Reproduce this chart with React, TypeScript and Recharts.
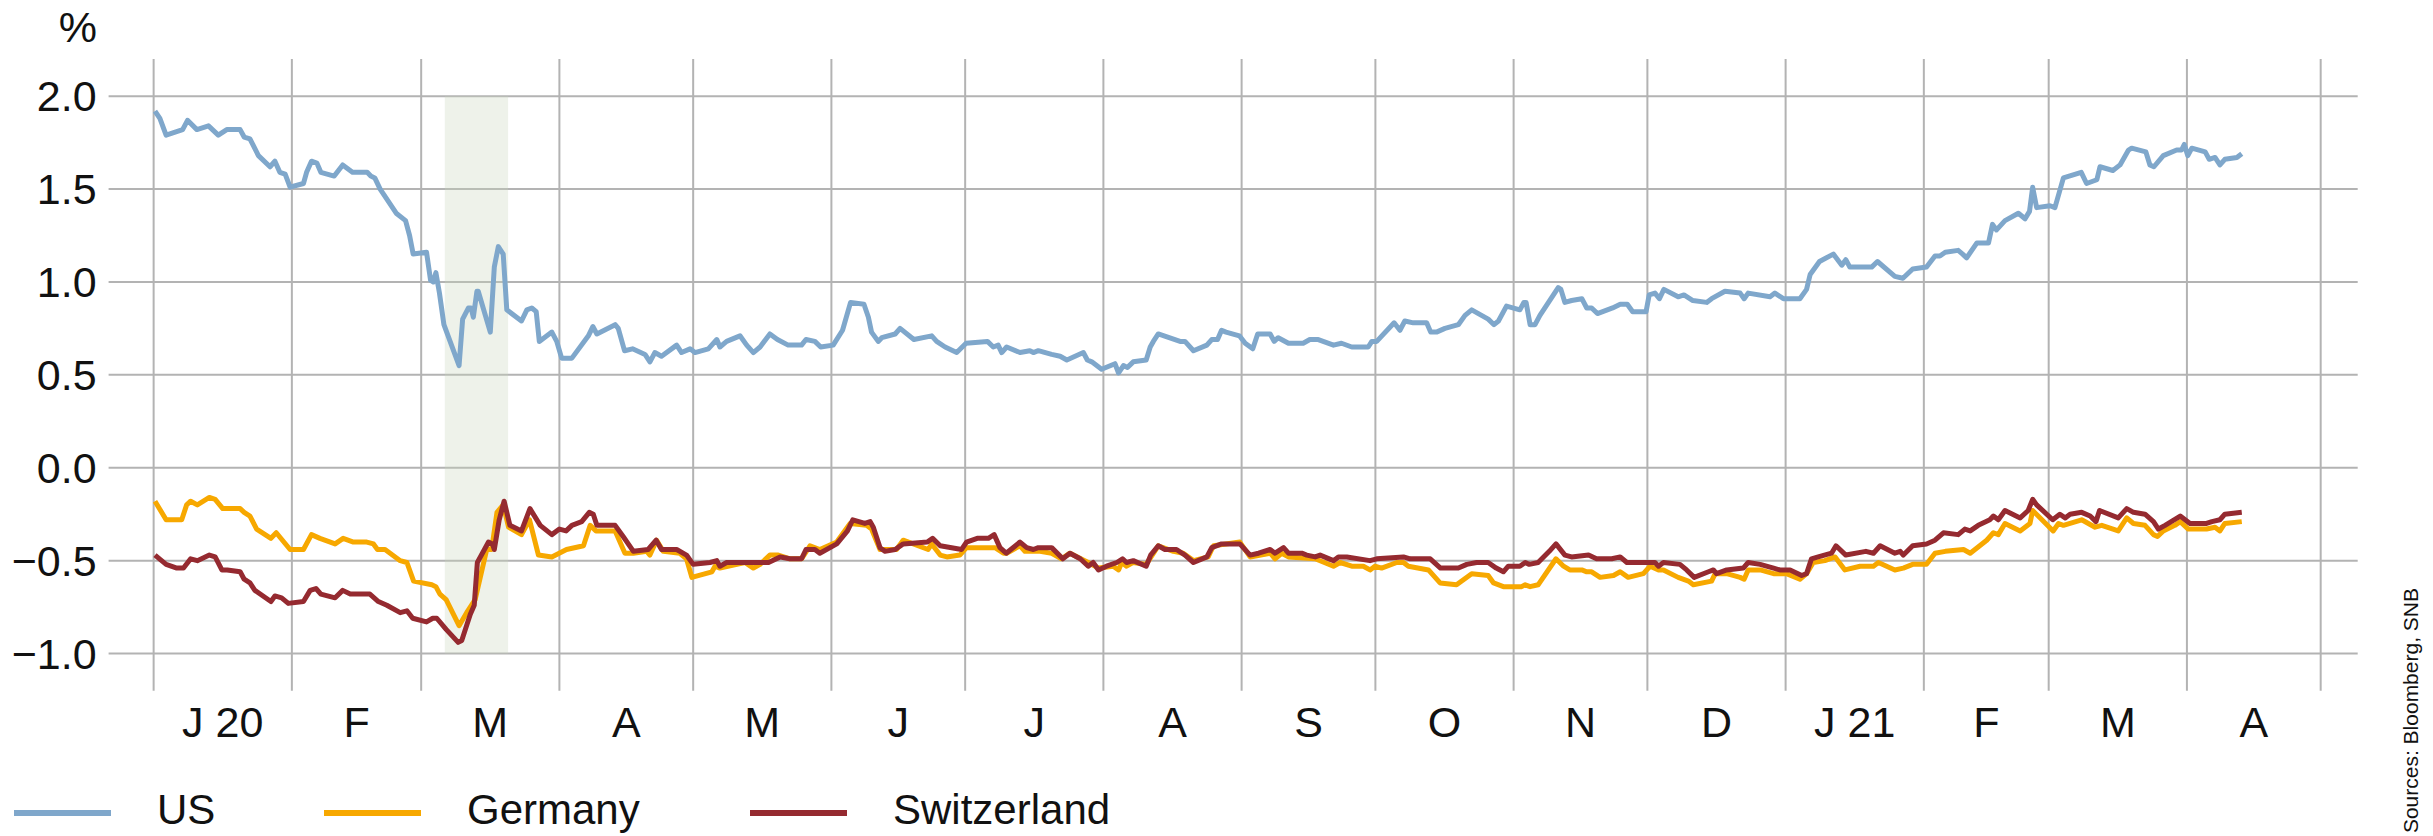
import React from 'react';
import { LineChart, Line, XAxis, YAxis, CartesianGrid, ReferenceArea } from 'recharts';

// x values: days since 1 Jan 2020
const monthStarts = [0, 31, 60, 91, 121, 152, 182, 213, 244, 274, 305, 335, 366, 397, 425, 456, 486];
const monthLabels = ['J 20', 'F', 'M', 'A', 'M', 'J', 'J', 'A', 'S', 'O', 'N', 'D', 'J 21', 'F', 'M', 'A'];
const yTicks = [-1, -0.5, 0, 0.5, 1, 1.5, 2];
const shadeDays = [65.3, 79.5];

const seriesNames = ['US', 'Germany', 'Switzerland'];
const seriesColors = ['#7fa7cb', '#f7a800', '#952a30'];

const usSeries: [number, number][] = [
  [0.3,1.92],[1.4,1.88],[2.8,1.79],[6.5,1.82],[7.6,1.87],[9.7,1.82],[12.3,1.84],[14.5,1.79],[16.4,1.82],[19.4,1.82],
  [20.3,1.78],[21.6,1.77],[23.5,1.68],[26.1,1.62],[27.2,1.65],[28.3,1.59],[29.5,1.58],[30.6,1.51],[33.6,1.53],[34.3,1.59],
  [35.4,1.65],[36.6,1.64],[37.5,1.59],[40.5,1.57],[42.4,1.63],[44.6,1.59],[47.9,1.59],[48.7,1.57],[49.6,1.56],[50.8,1.50],
  [54.4,1.37],[56.5,1.33],[57.4,1.25],[58.2,1.15],[61.2,1.16],[62.1,1.01],[62.7,1.00],[63.3,1.05],[64.1,0.94],[65.1,0.77],
  [68.5,0.55],[69.3,0.80],[70.6,0.86],[71.2,0.86],[71.7,0.81],[72.5,0.95],[72.8,0.95],[75.5,0.73],[76.4,1.08],[77.3,1.19],
  [78.4,1.15],[79.2,0.85],[82.5,0.79],[83.7,0.85],[84.8,0.86],[85.8,0.84],[86.5,0.68],[89.3,0.73],[90.4,0.68],[91.5,0.59],
  [93.8,0.59],[97.5,0.71],[98.5,0.76],[99.4,0.72],[103.5,0.77],[104.2,0.75],[105.6,0.63],[107.4,0.64],[110.2,0.61],[111.3,0.57],
  [112.4,0.62],[113.9,0.60],[117.3,0.66],[118.4,0.62],[120.3,0.64],[121.4,0.62],[124.4,0.64],[126.3,0.69],[127.0,0.65],[128.5,0.68],
  [131.5,0.71],[133.0,0.66],[134.5,0.62],[136.0,0.65],[138.2,0.72],[139.9,0.69],[142.3,0.66],[145.3,0.66],[146.3,0.69],[148.3,0.68],
  [149.6,0.65],[152.4,0.66],[154.5,0.74],[156.3,0.89],[159.3,0.88],[160.3,0.81],[161.0,0.73],[162.5,0.68],[163.3,0.70],[166.3,0.72],
  [167.4,0.75],[170.5,0.69],[174.5,0.71],[175.6,0.68],[177.5,0.65],[180.1,0.62],[182.2,0.67],[187.0,0.68],[188.3,0.65],[189.4,0.66],
  [190.2,0.62],[191.3,0.65],[194.3,0.62],[196.5,0.63],[197.3,0.62],[198.4,0.63],[201.4,0.61],[203.3,0.60],[204.8,0.58],[208.5,0.62],
  [209.4,0.58],[210.4,0.57],[212.6,0.53],[215.6,0.56],[216.4,0.51],[217.5,0.55],[218.4,0.54],[219.7,0.57],[222.6,0.58],[223.5,0.65],
  [224.2,0.68],[225.3,0.72],[230.2,0.68],[231.3,0.68],[233.2,0.63],[236.2,0.66],[237.3,0.69],[238.6,0.69],[239.5,0.74],[240.5,0.73],
  [243.5,0.71],[244.8,0.67],[246.5,0.64],[247.6,0.72],[250.4,0.72],[251.3,0.68],[252.2,0.70],[254.5,0.67],[257.8,0.67],[259.3,0.69],
  [261.2,0.69],[264.6,0.66],[266.4,0.67],[268.7,0.65],[272.4,0.65],[273.2,0.68],[274.3,0.68],[278.2,0.78],[279.5,0.74],[280.6,0.79],
  [282.5,0.78],[285.5,0.78],[286.4,0.73],[287.7,0.73],[289.6,0.75],[292.6,0.77],[294.1,0.82],[295.6,0.85],[299.3,0.80],[300.6,0.77],
  [301.6,0.79],[303.4,0.87],[306.4,0.85],[307.3,0.89],[307.8,0.89],[308.7,0.77],[309.8,0.77],[310.9,0.82],[315.0,0.97],[315.6,0.96],
  [316.5,0.89],[318.0,0.90],[320.3,0.91],[321.4,0.86],[322.5,0.86],[323.8,0.83],[327.2,0.86],[328.9,0.88],[330.5,0.88],[331.7,0.84],
  [334.7,0.84],[335.4,0.93],[336.7,0.94],[337.7,0.91],[338.7,0.96],[341.9,0.92],[343.2,0.93],[345.2,0.90],[348.3,0.89],[349.4,0.91],
  [352.4,0.95],[355.8,0.94],[356.7,0.91],[357.6,0.94],[362.5,0.92],[363.6,0.94],[365.5,0.91],[369.2,0.91],[370.7,0.96],[371.5,1.04],
  [373.6,1.11],[376.7,1.15],[378.6,1.09],[379.5,1.12],[380.4,1.08],[385.3,1.08],[386.6,1.11],[390.5,1.03],[392.3,1.02],[394.5,1.07],
  [397.6,1.08],[399.5,1.14],[400.6,1.14],[401.8,1.16],[404.7,1.17],[405.7,1.15],[406.6,1.13],[408.9,1.21],[411.5,1.21],[412.4,1.31],
  [413.3,1.28],[415.2,1.33],[418.2,1.37],[419.7,1.34],[420.7,1.38],[421.4,1.51],[422.3,1.40],[425.3,1.41],[426.4,1.40],[428.3,1.56],
  [432.3,1.59],[433.5,1.53],[435.8,1.55],[436.5,1.62],[439.4,1.60],[441.0,1.63],[442.9,1.71],[443.6,1.72],[446.8,1.70],[447.7,1.63],
  [448.6,1.62],[450.7,1.68],[453.7,1.71],[454.8,1.71],[455.4,1.74],[456.2,1.68],[457.1,1.72],[460.1,1.70],[461.0,1.66],[462.3,1.67],
  [463.4,1.63],[464.5,1.66],[467.2,1.67],[468.3,1.69],
];

const germanySeries: [number, number][] = [
  [0.3,-0.18],[2.8,-0.28],[6.3,-0.28],[7.4,-0.20],[8.3,-0.18],[9.8,-0.20],[12.5,-0.16],[13.8,-0.17],[15.5,-0.22],[19.4,-0.22],
  [20.3,-0.24],[21.6,-0.26],[23.1,-0.33],[26.3,-0.38],[27.5,-0.35],[30.6,-0.44],[33.6,-0.44],[35.4,-0.36],[37.3,-0.38],[40.7,-0.41],
  [42.5,-0.38],[44.8,-0.40],[47.8,-0.40],[49.3,-0.41],[50.2,-0.44],[51.9,-0.44],[55.3,-0.50],[56.8,-0.51],[58.3,-0.61],[62.4,-0.63],
  [63.3,-0.64],[64.2,-0.68],[65.6,-0.71],[68.5,-0.85],[70.2,-0.78],[72.1,-0.71],[74.7,-0.44],[75.8,-0.44],[77.0,-0.24],[78.4,-0.20],
  [79.6,-0.32],[82.5,-0.36],[84.3,-0.28],[86.3,-0.47],[89.3,-0.48],[92.6,-0.44],[96.4,-0.42],[97.9,-0.31],[99.2,-0.34],[103.5,-0.34],
  [105.7,-0.46],[107.6,-0.46],[110.6,-0.45],[111.3,-0.47],[112.8,-0.39],[114.3,-0.45],[118.0,-0.46],[119.5,-0.49],[120.7,-0.59],[125.2,-0.56],
  [125.9,-0.53],[127.0,-0.54],[132.6,-0.51],[134.5,-0.54],[136.0,-0.52],[138.2,-0.47],[140.1,-0.47],[142.7,-0.49],[145.3,-0.49],[147.2,-0.42],
  [149.4,-0.44],[153.2,-0.40],[156.2,-0.30],[159.9,-0.31],[161.0,-0.33],[162.9,-0.44],[166.6,-0.44],[168.1,-0.39],[173.7,-0.44],[174.5,-0.41],
  [176.4,-0.47],[177.9,-0.48],[180.8,-0.47],[182.3,-0.43],[188.7,-0.43],[190.6,-0.46],[191.3,-0.46],[194.3,-0.42],[195.4,-0.45],[198.8,-0.45],
  [201.4,-0.46],[203.6,-0.49],[205.5,-0.46],[209.6,-0.51],[211.9,-0.54],[215.2,-0.53],[216.4,-0.55],[217.1,-0.51],[218.2,-0.53],[219.6,-0.51],
  [222.6,-0.52],[225.3,-0.42],[228.7,-0.45],[230.9,-0.46],[233.2,-0.50],[236.5,-0.48],[237.7,-0.42],[243.6,-0.40],[245.9,-0.48],[250.4,-0.46],
  [251.5,-0.49],[253.0,-0.46],[254.5,-0.48],[260.5,-0.49],[264.6,-0.53],[266.1,-0.51],[268.7,-0.53],[271.3,-0.53],[272.8,-0.55],[273.9,-0.53],
  [275.4,-0.54],[278.8,-0.51],[280.3,-0.51],[281.4,-0.53],[285.9,-0.55],[288.5,-0.62],[292.2,-0.63],[295.6,-0.57],[299.3,-0.58],[300.5,-0.62],
  [302.7,-0.64],[306.8,-0.64],[307.6,-0.63],[308.7,-0.64],[310.5,-0.63],[314.5,-0.49],[316.2,-0.53],[317.6,-0.55],[320.3,-0.55],[321.4,-0.56],
  [322.5,-0.56],[324.4,-0.59],[327.4,-0.58],[328.9,-0.56],[330.7,-0.59],[334.1,-0.57],[335.6,-0.53],[337.5,-0.55],[338.6,-0.55],[341.9,-0.59],
  [344.2,-0.61],[345.3,-0.63],[349.4,-0.61],[350.2,-0.57],[352.8,-0.57],[355.8,-0.59],[356.7,-0.60],[357.6,-0.55],[360.3,-0.55],[363.3,-0.57],
  [366.2,-0.57],[369.2,-0.60],[370.7,-0.57],[372.2,-0.51],[374.8,-0.50],[377.1,-0.48],[379.3,-0.55],[382.7,-0.53],[385.7,-0.53],[386.8,-0.51],
  [390.5,-0.55],[392.4,-0.54],[394.5,-0.52],[397.6,-0.52],[399.5,-0.46],[401.8,-0.45],[405.9,-0.44],[407.4,-0.46],[411.1,-0.39],[412.6,-0.35],
  [413.7,-0.36],[415.2,-0.30],[418.6,-0.34],[420.8,-0.30],[421.4,-0.23],[426.0,-0.34],[427.2,-0.30],[428.3,-0.31],[432.4,-0.28],[435.4,-0.32],
  [436.9,-0.31],[440.6,-0.34],[442.5,-0.27],[444.0,-0.30],[446.6,-0.31],[448.5,-0.36],[449.4,-0.37],[450.7,-0.34],[453.3,-0.31],[454.5,-0.29],
  [456.3,-0.33],[460.4,-0.33],[462.3,-0.32],[463.4,-0.34],[464.5,-0.30],[468.3,-0.29],
];

const switzerlandSeries: [number, number][] = [
  [0.3,-0.47],[2.8,-0.52],[5.2,-0.54],[6.7,-0.54],[8.3,-0.49],[9.8,-0.50],[12.5,-0.47],[13.8,-0.48],[15.3,-0.55],[16.5,-0.55],
  [19.4,-0.56],[20.3,-0.60],[21.6,-0.62],[22.7,-0.66],[26.3,-0.72],[27.2,-0.69],[28.7,-0.70],[30.2,-0.73],[33.6,-0.72],[35.1,-0.66],
  [36.4,-0.65],[37.5,-0.68],[40.7,-0.70],[42.4,-0.66],[44.1,-0.68],[48.5,-0.68],[50.4,-0.72],[52.3,-0.74],[55.3,-0.78],[56.8,-0.77],
  [58.1,-0.81],[61.2,-0.83],[62.6,-0.81],[63.5,-0.81],[65.6,-0.87],[68.3,-0.94],[69.1,-0.93],[71.0,-0.79],[71.9,-0.74],[72.6,-0.51],
  [75.1,-0.40],[76.0,-0.41],[76.4,-0.44],[77.5,-0.28],[78.6,-0.18],[79.9,-0.31],[82.5,-0.34],[84.4,-0.22],[86.7,-0.31],[89.3,-0.36],
  [91.0,-0.33],[92.5,-0.34],[93.8,-0.31],[96.0,-0.29],[97.7,-0.24],[98.6,-0.25],[99.4,-0.31],[103.5,-0.31],[105.3,-0.37],[107.6,-0.45],
  [110.9,-0.44],[112.7,-0.39],[113.9,-0.44],[117.3,-0.44],[119.5,-0.47],[121.0,-0.52],[124.8,-0.51],[126.3,-0.50],[127.0,-0.53],[128.5,-0.51],
  [133.0,-0.51],[137.9,-0.51],[140.5,-0.48],[142.7,-0.49],[145.3,-0.49],[146.3,-0.44],[148.3,-0.44],[149.4,-0.46],[153.2,-0.41],[155.6,-0.34],
  [156.8,-0.28],[159.5,-0.30],[160.7,-0.29],[161.4,-0.32],[162.9,-0.43],[164.0,-0.45],[166.3,-0.44],[168.1,-0.41],[173.5,-0.40],[174.7,-0.38],
  [176.4,-0.42],[181.2,-0.44],[182.3,-0.40],[184.7,-0.38],[187.2,-0.38],[188.5,-0.36],[189.8,-0.43],[191.2,-0.46],[194.3,-0.40],[195.8,-0.43],
  [197.3,-0.44],[198.4,-0.43],[201.4,-0.43],[203.9,-0.49],[205.5,-0.46],[207.8,-0.49],[209.6,-0.53],[210.7,-0.51],[211.9,-0.55],[213.7,-0.53],
  [216.0,-0.51],[217.3,-0.49],[218.2,-0.51],[219.7,-0.50],[222.6,-0.53],[223.6,-0.47],[225.3,-0.42],[226.8,-0.44],[229.4,-0.44],[231.3,-0.47],
  [233.2,-0.51],[236.2,-0.48],[237.3,-0.43],[239.5,-0.41],[243.6,-0.41],[245.9,-0.47],[247.8,-0.46],[250.4,-0.44],[251.5,-0.46],[253.4,-0.43],
  [254.5,-0.46],[257.5,-0.46],[258.6,-0.47],[260.5,-0.48],[261.6,-0.47],[264.6,-0.50],[265.7,-0.48],[267.6,-0.48],[272.8,-0.50],[274.3,-0.49],
  [280.3,-0.48],[281.8,-0.49],[286.3,-0.49],[288.6,-0.54],[290.0,-0.54],[292.6,-0.54],[294.5,-0.52],[296.7,-0.51],[299.3,-0.51],[301.1,-0.54],
  [302.7,-0.56],[303.8,-0.53],[306.4,-0.53],[307.6,-0.51],[308.5,-0.52],[310.5,-0.51],[313.0,-0.45],[314.5,-0.41],[316.5,-0.47],[318.0,-0.48],
  [321.8,-0.47],[323.6,-0.49],[327.0,-0.49],[328.9,-0.48],[330.4,-0.51],[336.7,-0.51],[337.5,-0.53],[338.6,-0.51],[342.3,-0.52],[343.8,-0.55],
  [345.5,-0.59],[348.7,-0.56],[349.8,-0.55],[350.5,-0.57],[352.8,-0.55],[356.5,-0.54],[357.6,-0.51],[360.3,-0.52],[363.3,-0.54],[364.7,-0.55],
  [367.0,-0.55],[369.6,-0.58],[370.7,-0.57],[371.8,-0.49],[373.3,-0.48],[376.3,-0.46],[377.3,-0.42],[379.5,-0.47],[384.0,-0.45],[385.7,-0.46],
  [387.2,-0.42],[390.5,-0.46],[391.7,-0.45],[392.4,-0.47],[394.5,-0.42],[397.6,-0.41],[399.5,-0.39],[401.4,-0.35],[404.7,-0.36],[406.2,-0.33],
  [407.4,-0.34],[409.2,-0.31],[411.8,-0.28],[412.6,-0.26],[413.7,-0.28],[415.2,-0.23],[418.6,-0.27],[420.4,-0.23],[421.4,-0.17],[422.3,-0.20],
  [425.9,-0.28],[427.5,-0.25],[428.7,-0.27],[429.8,-0.25],[432.4,-0.24],[434.3,-0.26],[435.6,-0.29],[436.4,-0.23],[440.6,-0.27],[442.5,-0.22],
  [444.0,-0.24],[446.6,-0.25],[448.5,-0.29],[449.6,-0.33],[451.1,-0.31],[454.5,-0.26],[456.7,-0.30],[460.4,-0.30],[461.6,-0.29],[463.4,-0.28],
  [464.5,-0.25],[468.3,-0.24],
];

const FONT = "'Liberation Sans', Arial, Helvetica, sans-serif";
const TEXT = '#111111';
const GRID = '#b3b3b3';

const toRows = (s: [number, number][]) => s.map(([day, value]) => ({ day, value }));
const seriesData = [toRows(usSeries), toRows(germanySeries), toRows(switzerlandSeries)];

const labelTicks = monthLabels.map((_, i) => (monthStarts[i] + monthStarts[i + 1]) / 2);
const xDomain: [number, number] = [-10.1, 494.3];

const fmtY = (v: number) => (v < 0 ? '\u2212' + Math.abs(v).toFixed(1) : v.toFixed(1));

const legendLineX = [14, 324, 750];
const legendTextX = [157, 467, 893];

const EmptyTick = () => <g />;

export default function App() {
  return (
    <div style={{ position: 'absolute', left: 0, top: 0, width: 2433, height: 836, background: '#fff', fontFamily: FONT }}>
      <LineChart width={2433} height={836} margin={{ top: 59, right: 75.3, bottom: 85.3, left: 8.6 }}>
        <ReferenceArea
          xAxisId="grid"
          x1={shadeDays[0]}
          x2={shadeDays[1]}
          y1={-1}
          y2={2}
          fill="#c8d3b9"
          fillOpacity={0.3}
          stroke="none"
        />
        <CartesianGrid xAxisId="grid" stroke={GRID} strokeWidth={2} syncWithTicks />
        <XAxis
          xAxisId="grid"
          type="number"
          dataKey="day"
          domain={xDomain}
          allowDataOverflow
          ticks={monthStarts}
          interval={0}
          tick={EmptyTick}
          tickLine={false}
          axisLine={false}
          tickSize={0}
          tickMargin={0}
          height={0}
        />
        <XAxis
          xAxisId="labels"
          type="number"
          dataKey="day"
          domain={xDomain}
          allowDataOverflow
          ticks={labelTicks}
          interval={0}
          tickFormatter={(_v: number, i: number) => monthLabels[i]}
          tick={{ fontSize: 43, fill: TEXT, fontFamily: FONT }}
          tickLine={false}
          axisLine={false}
          tickSize={0}
          tickMargin={16}
          height={60}
        />
        <YAxis
          type="number"
          domain={[-1.2, 2.2]}
          allowDataOverflow
          ticks={yTicks}
          interval={0}
          tickFormatter={fmtY}
          tick={{ fontSize: 43, fill: TEXT, fontFamily: FONT }}
          tickLine={false}
          axisLine={false}
          tickSize={0}
          tickMargin={12}
          width={100}
        />
        {seriesNames.map((name, i) => (
          <Line
            key={name}
            xAxisId="grid"
            data={seriesData[i]}
            dataKey="value"
            name={name}
            type="linear"
            stroke={seriesColors[i]}
            strokeWidth={5}
            strokeLinejoin="round"
            dot={false}
            activeDot={false}
            isAnimationActive={false}
          />
        ))}
      </LineChart>
      <svg width={2433} height={836} style={{ position: 'absolute', left: 0, top: 0, pointerEvents: 'none' }}>
        <text x={97} y={42} textAnchor="end" fontSize={43} fill={TEXT} fontFamily={FONT}>%</text>
        {seriesNames.map((name, i) => (
          <g key={name}>
            <line x1={legendLineX[i]} x2={legendLineX[i] + 97} y1={813} y2={813} stroke={seriesColors[i]} strokeWidth={6} />
            <text x={legendTextX[i]} y={824} fontSize={42} fill={TEXT} fontFamily={FONT}>{name}</text>
          </g>
        ))}
        <text
          x={2418}
          y={588}
          transform="rotate(-90 2418 588)"
          textAnchor="end"
          fontSize={21}
          fill={TEXT}
          fontFamily={FONT}
        >
          Sources: Bloomberg, SNB
        </text>
      </svg>
    </div>
  );
}
